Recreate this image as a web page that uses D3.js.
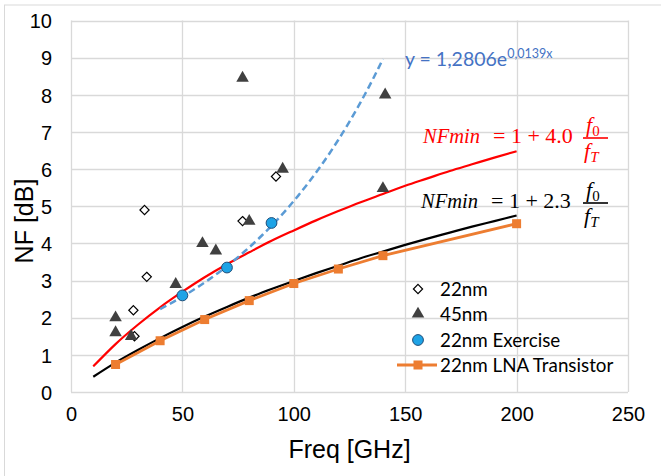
<!DOCTYPE html>
<html>
<head>
<meta charset="utf-8">
<script src="https://cdn.jsdelivr.net/npm/d3@7/dist/d3.min.js"></script>
<style>
  html, body { margin: 0; padding: 0; background: #fff; }
  svg { display: block; }
</style>
</head>
<body>
<svg id="chart" width="661" height="476"></svg>
<script>
// ---- data ----
const xTicks = [0, 50, 100, 150, 200, 250];
const yTicks = [0, 1, 2, 3, 4, 5, 6, 7, 8, 9, 10];

const nm22X = [33, 34, 28, 28.5, 77, 92];
const nm22Y = [4.9, 3.1, 2.2, 1.5, 4.6, 5.8];

const nm45X = [20, 20, 27, 47, 59, 65, 80, 95, 77, 141, 140];
const nm45Y = [2.0, 1.6, 1.5, 2.9, 4.0, 3.8, 4.6, 6.0, 8.45, 8.0, 5.48];

const exerciseX = [50, 70, 90];
const exerciseY = [2.6, 3.35, 4.55];

const lnaX = [20, 40, 60, 80, 100, 120, 140, 200];
const lnaY = [0.74, 1.38, 1.95, 2.46, 2.92, 3.31, 3.67, 4.53];

// NFmin curves sampled every 10 GHz
const curveX = [10, 20, 30, 40, 50, 60, 70, 80, 90, 100, 110, 120, 130, 140, 150, 160, 170, 180, 190, 200];
const nfRedY = [0.69, 1.29, 1.81, 2.28, 2.70, 3.09, 3.44, 3.76, 4.07, 4.35, 4.62, 4.87, 5.11, 5.33, 5.55, 5.75, 5.95, 6.13, 6.31, 6.48];
const nfBlackY = [0.41, 0.79, 1.13, 1.45, 1.75, 2.03, 2.29, 2.54, 2.77, 2.99, 3.20, 3.40, 3.60, 3.78, 3.96, 4.13, 4.29, 4.45, 4.60, 4.75];

// exponential trendline of the exercise points: y = 1,2806 e^(0,0139 x)
const trendA = 1.2806;
const trendB = 0.0139;
const trendRange = [40, 140];

const legendLabels = ["22nm", "45nm", "22nm Exercise", "22nm LNA Transistor"];

// ---- layout ----
const svg = d3.select("#chart");
const x = d3.scaleLinear().domain([0, 250]).range([71, 628]);
const y = d3.scaleLinear().domain([0, 10]).range([392, 20.5]);

const C = {
  grid: "#d9d9d9",
  red: "#ff0000",
  black: "#000000",
  orange: "#ed7d31",
  trend: "#5b9bd5",
  exercise: "#1ea3e6",
  exerciseStroke: "#1f4e79",
  tri: "#404040",
  eq: "#4472c4"
};

// chart border
svg.append("rect")
  .attr("x", 4.5).attr("y", 5).attr("width", 700).attr("height", 500)
  .attr("fill", "none").attr("stroke", "#d9d9d9").attr("stroke-width", 1);

// gridlines
const grid = svg.append("g");
grid.selectAll(".hg").data(yTicks).join("line")
  .attr("x1", x(0)).attr("x2", x(250))
  .attr("y1", d => Math.round(y(d)) + 0.5).attr("y2", d => Math.round(y(d)) + 0.5)
  .attr("stroke", C.grid).attr("stroke-width", 1.3);
grid.selectAll(".vg").data(xTicks).join("line")
  .attr("x1", d => Math.round(x(d)) + 0.5).attr("x2", d => Math.round(x(d)) + 0.5)
  .attr("y1", y(0)).attr("y2", y(10))
  .attr("stroke", C.grid).attr("stroke-width", 1.3);

// axes (labels only, Excel style)
const xAxis = d3.axisBottom(x).tickValues(xTicks).tickSize(0).tickPadding(15);
const gx = svg.append("g").attr("transform", `translate(0,${y(0)})`).call(xAxis);
gx.select(".domain").remove();
gx.selectAll("text").attr("font-family", "Liberation Sans, Arial, sans-serif")
  .attr("font-size", 20).attr("fill", "#000");

const yAxis = d3.axisLeft(y).tickValues(yTicks).tickSize(0).tickPadding(19);
const gy = svg.append("g").attr("transform", `translate(${x(0)},0)`).call(yAxis);
gy.select(".domain").remove();
gy.selectAll("text").attr("font-family", "Liberation Sans, Arial, sans-serif")
  .attr("font-size", 20).attr("fill", "#000").attr("dy", "0.36em");

// axis titles
svg.append("text").attr("x", (x(0) + x(250)) / 2).attr("y", 458)
  .attr("text-anchor", "middle")
  .attr("font-family", "Liberation Sans, Arial, sans-serif").attr("font-size", 25)
  .text("Freq [GHz]");
svg.append("text")
  .attr("transform", "translate(33,221) rotate(-90)")
  .attr("text-anchor", "middle")
  .attr("font-family", "Liberation Sans, Arial, sans-serif").attr("font-size", 25)
  .text("NF [dB]");

// ---- lines ----
const line = d3.line().x(d => x(d[0])).y(d => y(d[1])).curve(d3.curveMonotoneX);

svg.append("path").datum(d3.zip(curveX, nfBlackY))
  .attr("d", line).attr("fill", "none").attr("stroke", C.black).attr("stroke-width", 2.2);
svg.append("path").datum(d3.zip(curveX, nfRedY))
  .attr("d", line).attr("fill", "none").attr("stroke", C.red).attr("stroke-width", 2.2);

const lnaPts = d3.zip(lnaX, lnaY);
svg.append("path").datum(lnaPts)
  .attr("d", d3.line().x(d => x(d[0])).y(d => y(d[1])))
  .attr("fill", "none").attr("stroke", C.orange).attr("stroke-width", 2.8);
svg.append("g").selectAll("rect").data(lnaPts).join("rect")
  .attr("x", d => x(d[0]) - 4.5).attr("y", d => y(d[1]) - 4.5)
  .attr("width", 9).attr("height", 9).attr("fill", C.orange);

// trendline
const trendPts = d3.range(trendRange[0], trendRange[1] + 0.001, 2).map(v => [v, trendA * Math.exp(trendB * v)]);
svg.append("path").datum(trendPts)
  .attr("d", d3.line().x(d => x(d[0])).y(d => y(d[1])))
  .attr("fill", "none").attr("stroke", C.trend).attr("stroke-width", 2.5)
  .attr("stroke-dasharray", "7,4");

// ---- markers ----
const diamond = d3.symbol().type(d3.symbolDiamond2).size(54);
const triangle = d3.symbol().type(d3.symbolTriangle).size(68);

svg.append("g").selectAll("path").data(d3.zip(nm22X, nm22Y)).join("path")
  .attr("d", diamond).attr("transform", d => `translate(${x(d[0])},${y(d[1])})`)
  .attr("fill", "#fff").attr("stroke", "#000").attr("stroke-width", 1.2);

svg.append("g").selectAll("path").data(d3.zip(nm45X, nm45Y)).join("path")
  .attr("d", triangle).attr("transform", d => `translate(${x(d[0])},${y(d[1])})`)
  .attr("fill", C.tri);

svg.append("g").selectAll("circle").data(d3.zip(exerciseX, exerciseY)).join("circle")
  .attr("cx", d => x(d[0])).attr("cy", d => y(d[1])).attr("r", 5.4)
  .attr("fill", C.exercise).attr("stroke", C.exerciseStroke).attr("stroke-width", 1);

// ---- trendline equation ----
const eq = svg.append("text").attr("x", 405).attr("y", 66)
  .attr("font-family", "Lato, sans-serif").attr("font-size", 19.5).attr("fill", C.eq);
eq.append("tspan").text(`y = ${String(trendA).replace(".", ",")}e`);
eq.append("tspan").attr("dy", -8).attr("font-size", 12.5).text(`${String(trendB).replace(".", ",")}x`);

// ---- NFmin formulas ----
const serif = "Liberation Serif, Times New Roman, serif";
function nfFormula(g, x0, base, coef, color) {
  g.append("text").attr("x", x0).attr("y", base)
    .attr("font-family", serif).attr("font-size", 22).attr("font-style", "italic")
    .attr("fill", color).attr("textLength", 57).attr("lengthAdjust", "spacingAndGlyphs")
    .text("NFmin");
  g.append("text").attr("x", x0 + 70).attr("y", base)
    .attr("font-family", serif).attr("font-size", 22).attr("fill", color)
    .attr("xml:space", "preserve")
    .text(`= 1 + ${coef}`);
  const fx = 583, fw = 25;
  g.append("line").attr("x1", fx).attr("x2", fx + fw).attr("y1", base - 5).attr("y2", base - 5)
    .attr("stroke", color).attr("stroke-width", 1.6);
  const num = g.append("text").attr("x", fx + 3).attr("y", base - 11)
    .attr("font-family", serif).attr("font-size", 22).attr("fill", color);
  num.append("tspan").attr("font-style", "italic").text("f");
  num.append("tspan").attr("font-size", 15).attr("dy", 4).text("0");
  const den = g.append("text").attr("x", fx + 1).attr("y", base + 15)
    .attr("font-family", serif).attr("font-size", 22).attr("fill", color);
  den.append("tspan").attr("font-style", "italic").text("f");
  den.append("tspan").attr("font-style", "italic").attr("font-size", 15).attr("dy", 4).text("T");
}
nfFormula(svg.append("g"), 423, 143, "4.0", C.red);
nfFormula(svg.append("g"), 421, 208, "2.3", C.black);

// ---- legend ----
const lg = svg.append("g");
const rowY = [289, 314, 340, 365];
const mx = 418;
lg.append("path").attr("d", diamond).attr("transform", `translate(${mx},${rowY[0]})`)
  .attr("fill", "#fff").attr("stroke", "#000").attr("stroke-width", 1.2);
lg.append("path").attr("d", triangle).attr("transform", `translate(${mx},${rowY[1]})`)
  .attr("fill", C.tri);
lg.append("circle").attr("cx", mx).attr("cy", rowY[2]).attr("r", 5.4)
  .attr("fill", C.exercise).attr("stroke", C.exerciseStroke).attr("stroke-width", 1);
lg.append("line").attr("x1", 397).attr("x2", 437).attr("y1", rowY[3]).attr("y2", rowY[3])
  .attr("stroke", C.orange).attr("stroke-width", 2.8);
lg.append("rect").attr("x", mx - 4.5).attr("y", rowY[3] - 4.5).attr("width", 9).attr("height", 9)
  .attr("fill", C.orange);
lg.selectAll("text").data(legendLabels).join("text")
  .attr("x", 440).attr("y", (d, i) => rowY[i]).attr("dy", "0.36em")
  .attr("font-family", "Lato, sans-serif").attr("font-size", 18.8).attr("fill", "#000")
  .text(d => d);
</script>
</body>
</html>
